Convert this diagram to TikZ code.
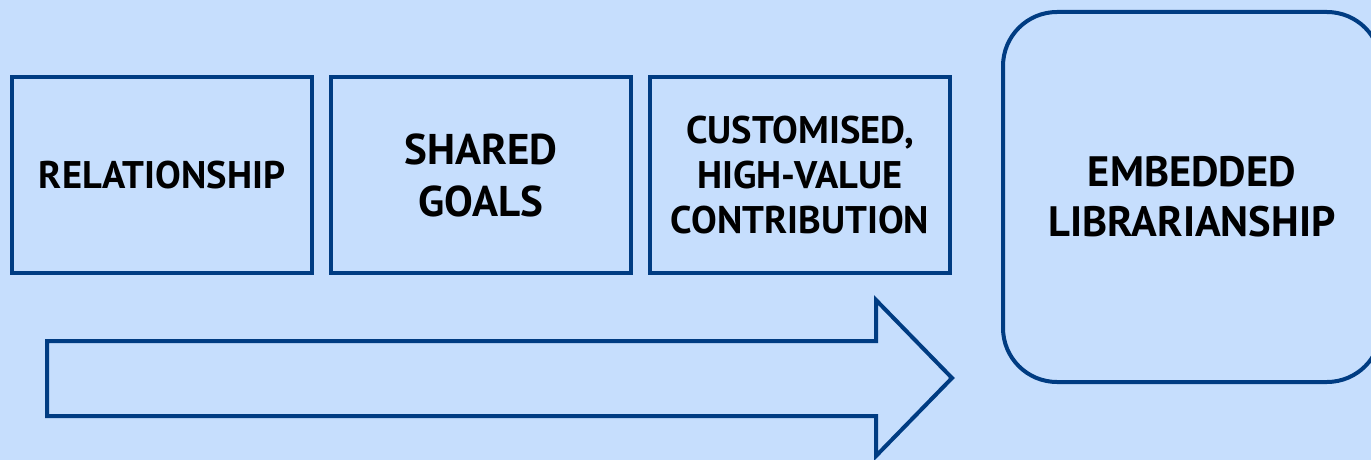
\documentclass[tikz,border=0pt]{standalone}
\usepackage{fontspec}
\setmainfont{PT Sans}
\definecolor{bgblue}{HTML}{C6DEFD}
\definecolor{edgeblue}{HTML}{003C82}
\tikzset{
  stagebox/.style={draw=edgeblue, line width=4pt, fill=bgblue, inner sep=0pt, outer sep=0pt,
    minimum width=300pt, minimum height=196pt, anchor=north west,
    align=center, font=\bfseries\fontsize{38.5}{45}\selectfont},
  goalbox/.style={stagebox, font=\bfseries\fontsize{43}{52}\selectfont},
  endbox/.style={draw=edgeblue, line width=4pt, rounded corners=54pt, inner sep=0pt, outer sep=0pt,
    minimum width=378pt, minimum height=370pt, anchor=north west,
    align=center, font=\bfseries\fontsize{42.5}{50}\selectfont},
  flowarrow/.style={draw=edgeblue, line width=4pt, line join=miter}
}
\begin{document}
\begin{tikzpicture}[x=1pt,y=-1pt]
\useasboundingbox (0,0) rectangle (1371,460);
\clip (0,0) rectangle (1371,460);
\fill[bgblue] (0,0) rectangle (1371,460);
\node[stagebox] (rel) at (12,77) {RELATIONSHIP};
\node[goalbox] (goals) at (331,77) {SHARED\\GOALS};
\node[stagebox] (cust) at (650,77) {CUSTOMISED,\\HIGH-VALUE\\CONTRIBUTION};
\node[endbox] (emb) at (1003,12) {EMBEDDED\\LIBRARIANSHIP};
\coordinate (a1) at (47,341);
\coordinate (a2) at (876,341);
\coordinate (a3) at (876,300);
\coordinate (tip) at (952,378);
\coordinate (a5) at (876,456);
\coordinate (a6) at (876,416);
\coordinate (a7) at (47,416);
\draw[flowarrow] (a1) -- (a2) -- (a3) -- (tip) -- (a5) -- (a6) -- (a7) -- cycle;
\end{tikzpicture}
\end{document}
